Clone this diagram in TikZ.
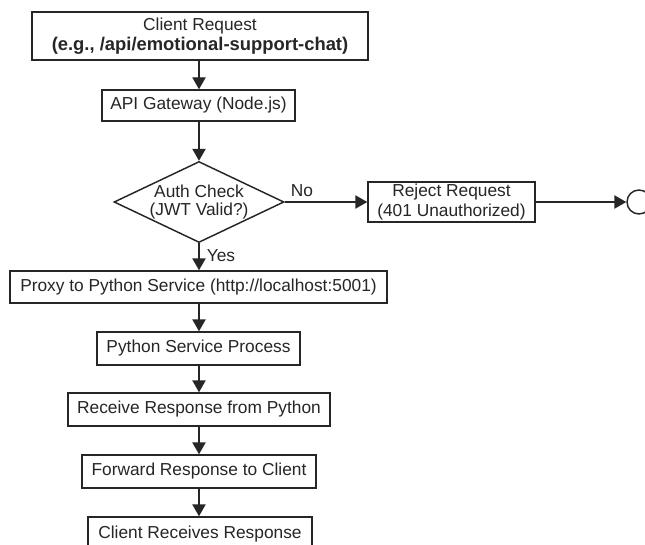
\documentclass[tikz,border=0pt]{standalone}
\usepackage{fontspec}
\setmainfont{Liberation Sans}
\usetikzlibrary{arrows.meta,shapes.geometric}
\begin{document}
\begin{tikzpicture}[x=0.75pt,y=-0.75pt,
  every node/.style={font=\fontsize{13}{15}\selectfont, text=black!85},
  box/.style={draw=black!85, line width=1.1pt, inner sep=0pt, align=center},
  arr/.style={draw=black!85, line width=1.1pt, -{Triangle[length=9pt,width=10pt]}},
  lbl/.style={inner sep=0pt}
]
% canvas
\useasboundingbox (0,0) rectangle (645,545);
\clip (0,0) rectangle (645,545);
\fill[white] (0,0) rectangle (645,545);

% main column of the flow
\coordinate (col) at (199,0);

\node[box, minimum width=252pt, minimum height=36pt] (req) at (200,36)
  {Client Request\\{\fontsize{13.8}{15}\selectfont\bfseries (e.g., /api/emotional-support-chat)}};
\node[box, minimum width=144.75pt, minimum height=23.25pt] (gw) at (198.5,105.5)
  {API Gateway (Node.js)};
\node[diamond, draw=black!85, line width=1.1pt, inner sep=0pt,
      minimum width=127.5pt, minimum height=60.75pt] (auth) at (199,202) {};
\node[align=center, inner sep=0pt, font=\fontsize{13}{13.5}\selectfont] (authtxt) at (auth.center)
  {Auth Check\\(JWT Valid?)};
\node[box, minimum width=125.25pt, minimum height=30pt] (rej) at (451.5,202)
  {Reject Request\\(401 Unauthorized)};
\node[circle, draw=black!85, line width=1.1pt, minimum size=18pt, inner sep=0pt] (end) at (639,202) {};
\node[box, minimum width=282.75pt, minimum height=24pt] (proxy) at (198.5,287)
  {Proxy to Python Service (http://localhost:5001)};
\node[box, minimum width=152.25pt, minimum height=24.75pt] (py) at (198.5,348.5)
  {Python Service Process};
\node[box, minimum width=196.5pt, minimum height=24.75pt] (recv) at (199,409.5)
  {Receive Response from Python};
\node[box, minimum width=175.5pt, minimum height=24.75pt] (fwd) at (199,471.5)
  {Forward Response to Client};
\node[box, minimum width=168pt, minimum height=25.5pt] (done) at (200,534)
  {Client Receives Response};

% connectors
\draw[arr] (req.south -| col) -- (gw.north -| col);
\draw[arr] (gw.south -| col) -- (auth.north);
\draw[arr] (auth.east) -- (rej.west);
\draw[arr] (rej.east) -- (end.west);
\draw[arr] (auth.south) -- (proxy.north -| col);
\draw[arr] (proxy.south -| col) -- (py.north -| col);
\draw[arr] (py.south -| col) -- (recv.north -| col);
\draw[arr] (recv.south -| col) -- (fwd.north -| col);
\draw[arr] (fwd.south -| col) -- (done.north -| col);

% branch labels
\node[lbl] (no) at (302,191) {No};
\node[lbl] (yes) at (221,256) {Yes};
\end{tikzpicture}
\end{document}
